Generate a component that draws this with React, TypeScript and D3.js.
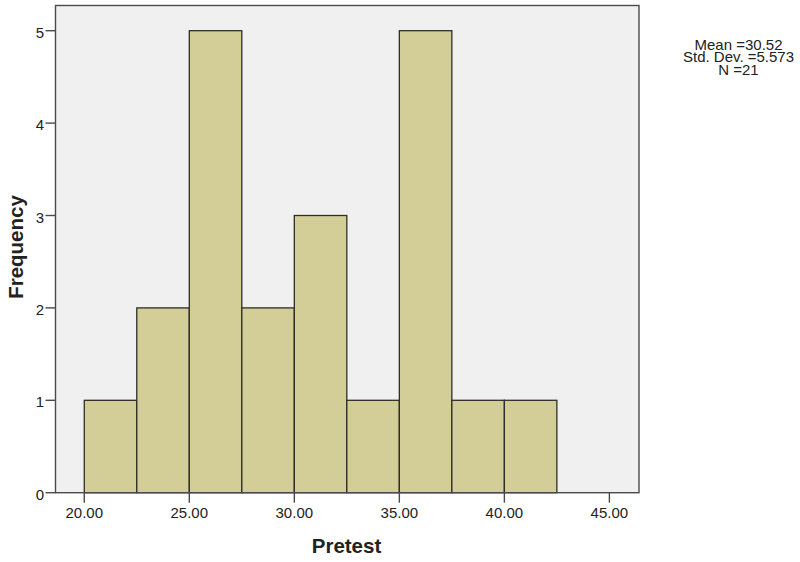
import React from "react";
import * as d3 from "d3";

// Pretest histogram (bin width 2.5)
const binStarts = [20, 22.5, 25, 27.5, 30, 32.5, 35, 37.5, 40];
const counts = [1, 2, 5, 2, 3, 1, 5, 1, 1];
const xTicks = [20, 25, 30, 35, 40, 45];
const yTicks = [0, 1, 2, 3, 4, 5];
const statLines = ["Mean =30.52", "Std. Dev. =5.573", "N =21"];

const binWidth = 2.5;

const App = () => {
  const W = 800, H = 562;
  const left = 55.5, right = 639, top = 5.5, bottom = 492.7;

  const x = d3.scaleLinear().domain([18.63, 46.41]).range([left, right]);
  const y = d3.scaleLinear().domain([0, 5]).range([bottom, 30.7]);

  const font = "Arial, 'Liberation Sans', sans-serif";

  return (
    <svg width={W} height={H} style={{ position: "absolute", left: 0, top: 0 }} fontFamily={font}>
      <rect x={left} y={top} width={right - left} height={bottom - top} fill="#f0f0f0" />
      {binStarts.map((b, i) => (
        <rect
          key={i}
          x={x(b)}
          y={y(counts[i])}
          width={x(b + binWidth) - x(b)}
          height={bottom - y(counts[i])}
          fill="#d3ce98"
          stroke="#2e2e26"
          strokeWidth={1.3}
        />
      ))}
      <rect x={left} y={top} width={right - left} height={bottom - top} fill="none" stroke="#4a4a4a" strokeWidth={1.4} />
      {yTicks.map((t) => (
        <g key={t}>
          <line x1={left - 10} x2={left} y1={y(t)} y2={y(t)} stroke="#4a4a4a" strokeWidth={1.4} />
          <text x={44} y={y(t) + 7} textAnchor="end" fontSize={15} fill="#222">
            {t}
          </text>
        </g>
      ))}
      {xTicks.map((t) => (
        <g key={t}>
          <line x1={x(t)} x2={x(t)} y1={bottom} y2={bottom + 10} stroke="#4a4a4a" strokeWidth={1.4} />
          <text x={x(t)} y={518} textAnchor="middle" fontSize={15} fill="#222">
            {t.toFixed(2)}
          </text>
        </g>
      ))}
      <text
        transform="translate(22.5,247) rotate(-90)"
        textAnchor="middle"
        fontSize={20.5}
        fontWeight="bold"
        fill="#222"
      >
        Frequency
      </text>
      <text x={346.5} y={552.5} textAnchor="middle" fontSize={20.5} fontWeight="bold" fill="#222">
        Pretest
      </text>
      {statLines.map((s, i) => (
        <text key={i} x={738.5} y={49.5 + i * 12.7} textAnchor="middle" fontSize={15} fill="#222">
          {s}
        </text>
      ))}
    </svg>
  );
};

export default App;
